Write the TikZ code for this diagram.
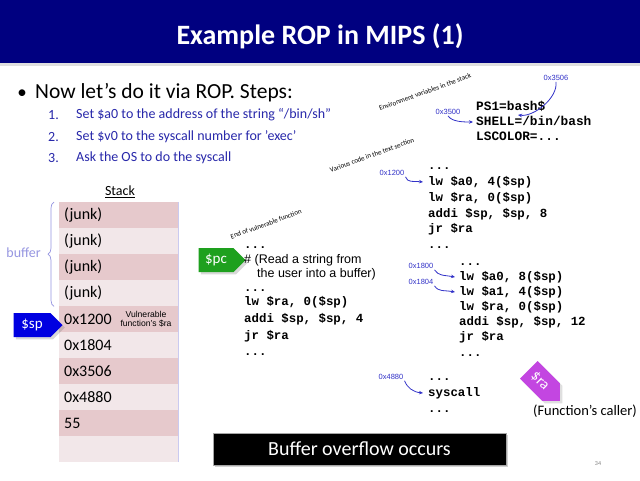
\documentclass[tikz,border=0pt]{standalone}
\usepackage{fontspec}
\setmainfont{Carlito}
\newfontfamily\arialf{Liberation Sans}
\newfontfamily\courf{Liberation Mono}
\usetikzlibrary{shapes.symbols,arrows.meta,decorations.pathreplacing,shadows}
\definecolor{navy}{RGB}{0,0,128}
\definecolor{stepblue}{RGB}{40,40,170}
\definecolor{addrblue}{RGB}{50,50,200}
\definecolor{celldk}{RGB}{230,201,204}
\definecolor{celllt}{RGB}{242,231,233}
\definecolor{lav}{RGB}{150,150,225}
\definecolor{spblue}{RGB}{0,0,225}
\definecolor{pcgreen}{RGB}{30,160,30}
\definecolor{rapurple}{RGB}{195,70,225}
\begin{document}
\begin{tikzpicture}[x=1pt,y=-1pt,
  code/.style={anchor=west,inner sep=0,text height=8.5pt,text depth=2.5pt,font=\courf\bfseries\fontsize{12.4}{12.4}\selectfont},
  envc/.style={code,font=\courf\bfseries\fontsize{12.8}{12.8}\selectfont},
  prose/.style={anchor=west,inner sep=0,text height=8.5pt,text depth=2.5pt,font=\arialf\fontsize{12.5}{12.5}\selectfont},
  addr/.style={inner sep=1pt,text=addrblue,font=\arialf\fontsize{7.5}{7.5}\selectfont},
  slant/.style={inner sep=0,rotate=20,font=\fontsize{7}{7}\selectfont},
  cell/.style={anchor=north west,minimum width=119pt,minimum height=26pt,text width=109pt,inner xsep=5pt,inner ysep=0pt,align=left,font=\fontsize{16}{16}\selectfont},
  stepnum/.style={anchor=west,inner sep=0,text=stepblue,font=\fontsize{14}{14}\selectfont},
  arr/.style={addrblue,line width=0.8pt,-{Stealth[length=4pt,width=3.5pt]}},
  tag/.style={signal,signal to=east,text=white,inner sep=0pt,font=\fontsize{15}{15}\selectfont}
]
\useasboundingbox (0,0) rectangle (640,480);
\fill[white] (0,0) rectangle (640,480);
% title bar
\fill[gray!25] (0,62) rectangle (640,66);
\fill[navy] (0,0) rectangle (640,63);
\node[text=white,font=\bfseries\fontsize{28}{28}\selectfont] (title) at (320,36) {Example ROP in MIPS (1)};

% bullet and steps
\node[inner sep=0,font=\fontsize{19}{19}\selectfont] (dot) at (22,94) {\textbullet};
\node[anchor=west,inner sep=0,font=\fontsize{21.5}{21.5}\selectfont] (bul) at (35,93) {Now let’s do it via ROP. Steps:};
\node[stepnum] (n1) at (48,115) {1.};
\node[stepnum] (s1) at (76,115) {Set \$a0 to the address of the string “/bin/sh”};
\node[stepnum] (n2) at (48,137) {2.};
\node[stepnum] (s2) at (76,137) {Set \$v0 to the syscall number for 'exec'};
\node[stepnum] (n3) at (48,158) {3.};
\node[stepnum] (s3) at (76,158) {Ask the OS to do the syscall};

% stack
\node[font=\fontsize{14}{14}\selectfont,inner sep=0] (stk) at (120,192) {\underline{Stack}};
\node[cell,fill=celldk] (c1) at (59,202) {(junk)};
\node[cell,fill=celllt] (c2) at (59,228) {(junk)};
\node[cell,fill=celldk] (c3) at (59,254) {(junk)};
\node[cell,fill=celllt] (c4) at (59,280) {(junk)};
\node[cell,fill=celldk] (c5) at (59,306) {0x1200};
\node[cell,fill=celllt] (c6) at (59,332) {0x1804};
\node[cell,fill=celldk] (c7) at (59,358) {0x3506};
\node[cell,fill=celllt] (c8) at (59,384) {0x4880};
\node[cell,fill=celldk] (c9) at (59,410) {55};
\node[cell,fill=celllt] (c10) at (59,436) {};
\draw[lav!50,line width=0.6pt] (c1.north east) -- (c10.south east);
\node[inner sep=0,align=center,font=\arialf\fontsize{8.6}{9.4}\selectfont] (vf) at (146,319) {Vulnerable\\function’s \$ra};

% brace and buffer
\draw[lav,line width=0.7pt,decorate,decoration={brace,amplitude=6pt}] ([xshift=-5pt]c4.south west) -- ([xshift=-5pt]c1.north west);
\node[anchor=east,inner sep=0,text=lav,font=\fontsize{14}{14}\selectfont] (buf) at (41,253) {buffer};

% $sp and $pc tags
\node[tag,fill=spblue,drop shadow={opacity=0.3},minimum width=49pt,minimum height=24pt] (sp) at (32,325) {\$sp};
\node[tag,fill=pcgreen,drop shadow={opacity=0.3},minimum width=47pt,minimum height=24pt] (pc) at (216,260) {\$pc};

% vulnerable function code
\node[slant] (endvf) at (266,224) {End of vulnerable function};
\node[code] (v1) at (244,245) {...};
\node[prose] (v2) at (244,260) {\# (Read a string from};
\node[prose] (v3) at (257,274) {the user into a buffer)};
\node[code] (v4) at (244,288) {...};
\node[code] (v5) at (244,302) {lw \$ra, 0(\$sp)};
\node[code] (v6) at (244,319) {addi \$sp, \$sp, 4};
\node[code] (v7) at (244,336) {jr \$ra};
\node[code] (v8) at (244,352) {...};

% environment
\node[slant] (envl) at (425,92) {Environment variables in the stack};
\node[envc] (e1) at (476,107) {PS1=bash\$};
\node[envc] (e2) at (476,122) {SHELL=/bin/bash};
\node[envc] (e3) at (476,137) {LSCOLOR=...};
\node[addr] (a3506) at (556,78) {0x3506};
\node[addr] (a3500) at (448,112) {0x3500};
\coordinate (eq) at (518,115);
\draw[arr] (a3500.south) .. controls +(4,6) and +(-10,0) .. ([xshift=-3pt]e2.west);
\draw[arr] (a3506.south) .. controls +(2,16) and +(16,2) .. (eq);

% text section gadget 1
\node[slant] (various) at (372,155) {Various code in the text section};
\node[addr] (a1200) at (392,173) {0x1200};
\node[code] (g1) at (428,166) {...};
\node[code] (g2) at (428,182) {lw \$a0, 4(\$sp)};
\node[code] (g3) at (428,198) {lw \$ra, 0(\$sp)};
\node[code] (g4) at (428,214) {addi \$sp, \$sp, 8};
\node[code] (g5) at (428,229) {jr \$ra};
\node[code] (g6) at (428,245) {...};
\draw[arr] (a1200.south east) .. controls +(2,6) and +(-10,-1) .. ([xshift=-5pt]g2.west);

% gadget 2
\node[addr] (a1800) at (421,266) {0x1800};
\node[addr] (a1804) at (421,282) {0x1804};
\node[code] (h1) at (459,262) {...};
\node[code] (h2) at (459,277) {lw \$a0, 8(\$sp)};
\node[code] (h3) at (459,292) {lw \$a1, 4(\$sp)};
\node[code] (h4) at (459,307) {lw \$ra, 0(\$sp)};
\node[code] (h5) at (459,322) {addi \$sp, \$sp, 12};
\node[code] (h6) at (459,337) {jr \$ra};
\node[code] (h7) at (459,353) {...};
\draw[arr] (a1800.south east) .. controls +(4,6) and +(-12,-2) .. ([xshift=-4pt]h2.west);
\draw[arr] (a1804.south east) .. controls +(4,6) and +(-12,-2) .. ([xshift=-4pt]h3.west);

% syscall
\node[addr] (a4880) at (391,377) {0x4880};
\node[code] (k1) at (428,377) {...};
\node[code] (k2) at (428,393) {syscall};
\node[code] (k3) at (428,409) {...};
\draw[arr] (a4880.south east) .. controls +(3,7) and +(-10,-1) .. ([xshift=-5pt]k2.west);

% $ra tag and caller
\node[tag,fill=rapurple,drop shadow={opacity=0.25},rotate=-45,minimum width=44pt,minimum height=25pt] (ra) at (540,381) {\$ra};
\node[font=\fontsize{14.5}{14.5}\selectfont,inner sep=0] (caller) at (585,411) {(Function’s caller)};

% buffer overflow box
\node[fill=black,text=white,draw=gray!70,line width=0.6pt,drop shadow={opacity=0.35},minimum width=293pt,minimum height=32pt,inner sep=0,font=\fontsize{20}{20}\selectfont] (bo) at (359.5,449) {Buffer overflow occurs};

\node[text=gray,inner sep=0,font=\fontsize{6}{6}\selectfont] (pg) at (598,464) {34};
\end{tikzpicture}
\end{document}
